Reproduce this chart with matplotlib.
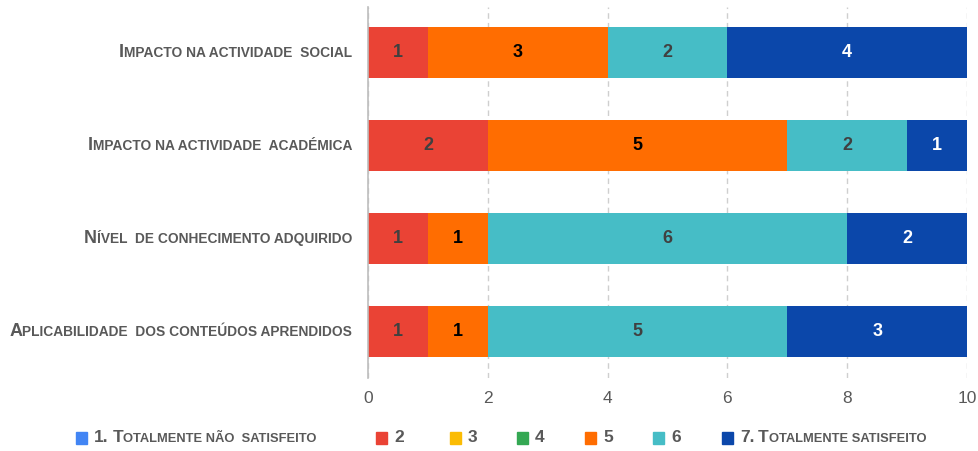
import numpy as np
import matplotlib
matplotlib.use("Agg")
import matplotlib.pyplot as plt
from matplotlib.offsetbox import TextArea, HPacker, DrawingArea, AnnotationBbox
from matplotlib.patches import Rectangle

plt.rcParams["font.family"] = ["Liberation Sans", "DejaVu Sans"]

# categories bottom -> top
categories = [
    "Aplicabilidade  dos conteúdos aprendidos",
    "Nível  de conhecimento adquirido",
    "Impacto na actividade  académica",
    "Impacto na actividade  social",
]
series_names = ["1. Totalmente não  satisfeito", "2", "3", "4", "5", "6",
                "7. Totalmente satisfeito"]
s1 = [0, 0, 0, 0]
s2 = [1, 1, 2, 1]
s3 = [0, 0, 0, 0]
s4 = [0, 0, 0, 0]
s5 = [1, 1, 5, 3]
s6 = [5, 6, 2, 2]
s7 = [3, 2, 1, 4]
series = [s1, s2, s3, s4, s5, s6, s7]

colors = ["#4285F4", "#EA4335", "#FBBC04", "#34A853", "#FF6D01", "#46BDC6", "#0B47AA"]
label_colors = ["#404040", "#404040", "#404040", "#404040", "#000000", "#404040", "#FFFFFF"]
TXT = "#595959"


def smallcaps(text, big, small, color, weight="bold"):
    """Pack a string as small caps: capitals/digits at big size, rest at small size."""
    runs = []
    for ch in text:
        is_big = ch.isupper() or ch.isdigit() or ch == "."
        if runs and runs[-1][1] == is_big:
            runs[-1][0] += ch
        else:
            runs.append([ch, is_big])
    parts = [TextArea(r.upper(), textprops=dict(fontsize=big if b else small,
                                                color=color, fontweight=weight))
             for r, b in runs]
    return HPacker(children=parts, pad=0, sep=0, align="baseline")


fig = plt.figure(figsize=(9.79, 4.51), dpi=100)
ax = fig.add_axes([368 / 979, 1 - 377.5 / 451, 599 / 979, 371 / 451])

y = np.arange(len(categories))
left = np.zeros(len(categories))
for vals, c, lc in zip(series, colors, label_colors):
    vals = np.array(vals, float)
    ax.barh(y, vals, left=left, height=0.55, color=c, edgecolor="none", zorder=3)
    for yi, (l, v) in enumerate(zip(left, vals)):
        if v > 0:
            ax.text(l + v / 2, yi, f"{int(v)}", ha="center", va="center",
                    fontsize=13, fontweight="bold", color=lc, zorder=4)
    left += vals

ax.set_xlim(0, 10)
ax.set_ylim(-0.5, len(categories) - 0.5)
ax.set_xticks([0, 2, 4, 6, 8, 10])
ax.set_yticks([])
ax.tick_params(axis="x", length=0, labelsize=12.5, colors=TXT, pad=10)
ax.grid(axis="x", color="#CFCFCF", linestyle=(0, (4, 3)), linewidth=1, zorder=0)
for s in ["top", "right", "bottom"]:
    ax.spines[s].set_visible(False)
ax.spines["left"].set_color("#BDBDBD")
ax.spines["left"].set_linewidth(1.2)
ax.spines["left"].set_zorder(5)

for yi, name in enumerate(categories):
    box = smallcaps(name, 13, 9.9, TXT)
    ab = AnnotationBbox(box, (0, yi), xycoords=("axes fraction", "data"),
                        xybox=(-11.5, 0), boxcoords="offset points",
                        box_alignment=(1, 0.5), frameon=False)
    ax.add_artist(ab)

# legend, entries placed along the bottom
legend_x = [76, 376, 450, 517, 585, 653, 722]
for x0, name, c in zip(legend_x, series_names, colors):
    da = DrawingArea(8, 8, 0, 0)
    da.add_artist(Rectangle((0, 0), 8, 8, color=c))
    txt = smallcaps(name, 12.5, 9.3, TXT)
    entry = HPacker(children=[da, txt], pad=0, sep=5, align="center")
    ab = AnnotationBbox(entry, (x0 / 979, 1 - 438 / 451), xycoords="figure fraction",
                        box_alignment=(0, 0.5), frameon=False)
    fig.add_artist(ab)

fig.savefig("out.png", dpi=100)
